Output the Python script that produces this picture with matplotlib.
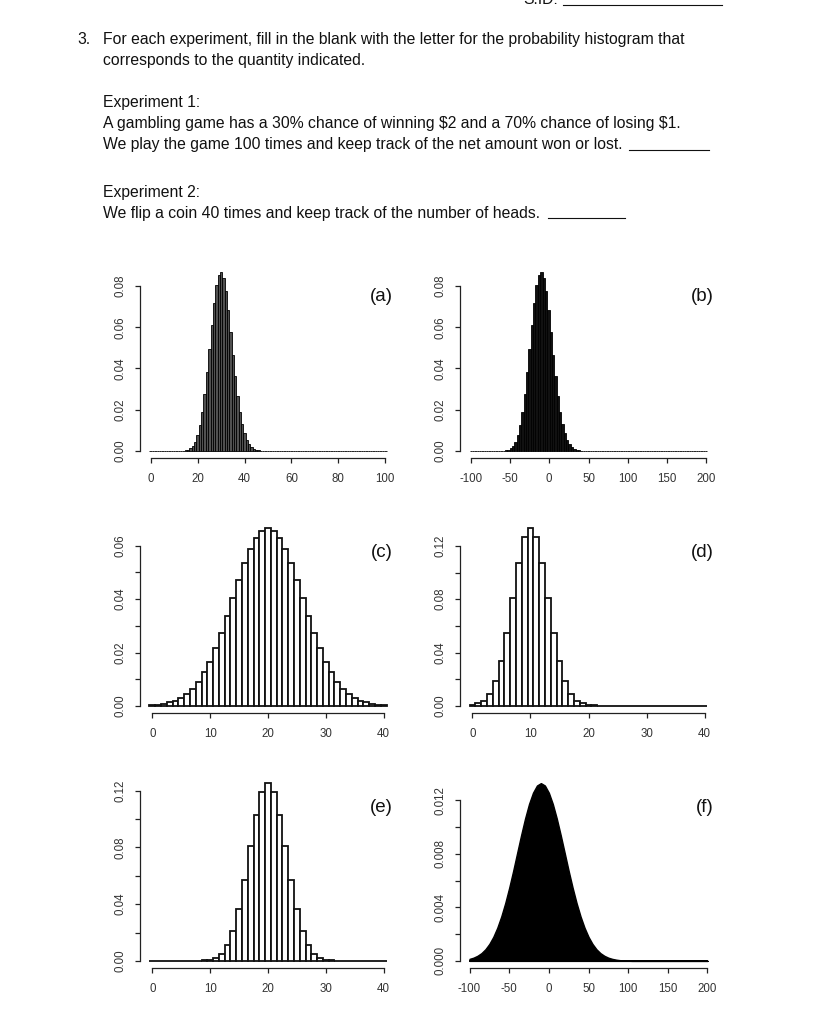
import numpy as np
import matplotlib
matplotlib.use("Agg")
import matplotlib.pyplot as plt
from matplotlib.lines import Line2D

plt.rcParams['font.family'] = ['Liberation Sans', 'DejaVu Sans']
plt.rcParams['axes.unicode_minus'] = False

# (a) number of wins out of 100, bars at 0..100 (values read for 12..50)
a_x = list(range(0, 101))
a_start = 12
a_probs = [0.00001, 0.00004, 0.0001, 0.00025, 0.00057, 0.0012, 0.0024, 0.0044, 0.0076, 0.0124,
           0.019, 0.0277, 0.0381, 0.0496, 0.0613, 0.072, 0.0804, 0.0856, 0.0868, 0.084,
           0.0776, 0.0685, 0.0579, 0.0468, 0.0362, 0.0268, 0.0191, 0.013, 0.0085, 0.0053,
           0.0032, 0.00185, 0.00103, 0.00055, 0.00028, 0.00014, 0.00006, 0.00003, 0.00001]

# (b) net amount, bars at -100, -97, ..., 200 (values read for -64..50)
b_x = list(range(-100, 201, 3))
b_start = -64
b_probs = [0.00001, 0.00004, 0.0001, 0.00025, 0.00057, 0.0012, 0.0024, 0.0044, 0.0076, 0.0124,
           0.019, 0.0277, 0.0381, 0.0496, 0.0613, 0.072, 0.0804, 0.0856, 0.0868, 0.084,
           0.0776, 0.0685, 0.0579, 0.0468, 0.0362, 0.0268, 0.0191, 0.013, 0.0085, 0.0053,
           0.0032, 0.00185, 0.00103, 0.00055, 0.00028, 0.00014, 0.00006, 0.00003, 0.00001]

# (c) bars at 0..40
c_x = list(range(0, 41))
c_probs = [0.0002, 0.0004, 0.0008, 0.0013, 0.002, 0.0031, 0.0045, 0.0063, 0.0091, 0.0126,
           0.0166, 0.0216, 0.0273, 0.0338, 0.0404, 0.0473, 0.0535, 0.0588, 0.0629, 0.0657,
           0.0666,
           0.0657, 0.0629, 0.0588, 0.0535, 0.0473, 0.0404, 0.0338, 0.0273, 0.0216, 0.0166,
           0.0126, 0.0091, 0.0063, 0.0045, 0.0031, 0.002, 0.0013, 0.0008, 0.0004, 0.0002]

# (d) bars at 0..40
d_x = list(range(0, 41))
d_probs = [0.0008, 0.0018, 0.0038, 0.009, 0.0183, 0.0333, 0.0545, 0.0808, 0.107, 0.1263,
           0.1333,
           0.1263, 0.107, 0.0808, 0.0545, 0.0333, 0.0183, 0.009, 0.0038, 0.0018, 0.0008,
           0.0003, 0.0001, 0, 0, 0, 0, 0, 0, 0, 0,
           0, 0, 0, 0, 0, 0, 0, 0, 0, 0]

# (e) number of heads in 40 flips, bars at 0..40
e_x = list(range(0, 41))
e_probs = [0, 0, 0, 0, 0, 0, 0, 0.00001, 0.0001, 0.0003,
           0.0008, 0.0021, 0.0051, 0.0109, 0.0211, 0.0366, 0.0572, 0.0807, 0.1031, 0.1194,
           0.1254,
           0.1194, 0.1031, 0.0807, 0.0572, 0.0366, 0.0211, 0.0109, 0.0051, 0.0021, 0.0008,
           0.0003, 0.0001, 0.00001, 0, 0, 0, 0, 0, 0, 0]

# (f) smooth filled shape, read every 5 units from -100 to 200
f_x = list(range(-100, 201, 5))
f_dens = [0.00015, 0.00024, 0.00038, 0.00058, 0.00087, 0.00127, 0.0018, 0.00248, 0.00332, 0.00432,
          0.00547, 0.00673, 0.00807, 0.0094, 0.01065, 0.01174, 0.01258, 0.01312, 0.0133, 0.01312,
          0.01258, 0.01174, 0.01065, 0.0094, 0.00807, 0.00673, 0.00547, 0.00432, 0.00332, 0.00248,
          0.0018, 0.00127, 0.00087, 0.00058, 0.00038, 0.00024, 0.00015, 0.00009, 0.00005, 0.00003,
          0.00001, 0, 0, 0, 0, 0, 0, 0, 0, 0,
          0, 0, 0, 0, 0, 0, 0, 0, 0, 0, 0]

W, H = 813, 1024
fig = plt.figure(figsize=(W / 100, H / 100), dpi=100)


def fx(x):
    return x / W


def fy(y):
    return 1 - y / H


def add_panel(l, t, r, b):
    return fig.add_axes([fx(l), fy(b), (r - l) / W, (b - t) / H])


def style(ax, xticks, yticks, ylabels, tag):
    ax.use_sticky_edges = False
    ax.margins(0.04)
    for s in ['top', 'right']:
        ax.spines[s].set_visible(False)
    for s in ['left', 'bottom']:
        ax.spines[s].set_linewidth(0.9)
        ax.spines[s].set_color('#222222')
    ax.spines['left'].set_bounds(yticks[0], yticks[-1])
    ax.spines['bottom'].set_bounds(xticks[0], xticks[-1])
    ax.set_xticks(xticks, labels=[str(v) for v in xticks])
    ax.set_yticks(yticks, labels=ylabels)
    ax.tick_params(axis='both', direction='out', length=3.5, width=0.9,
                   color='#222222', labelsize=8.3, labelcolor='#333333')
    ax.tick_params(axis='x', pad=7)
    ax.tick_params(axis='y', pad=6.5, labelrotation=90)
    for lab in ax.get_yticklabels():
        lab.set_va('center')
    ax.text(0.988, 0.835, tag, transform=ax.transAxes, ha='right', va='center',
            fontsize=13.5, color='#111111')


# question text
texts = [
    (77, 44, "3."),
    (103, 44, "For each experiment, fill in the blank with the letter for the probability histogram that"),
    (103, 65.5, "corresponds to the quantity indicated."),
    (103, 107, "Experiment 1:"),
    (103, 128.3, "A gambling game has a 30% chance of winning $2 and a 70% chance of losing $1."),
    (103, 149.3, "We play the game 100 times and keep track of the net amount won or lost."),
    (103, 197.5, "Experiment 2:"),
    (103, 218.3, "We flip a coin 40 times and keep track of the number of heads."),
]
for x, y, s in texts:
    fig.text(fx(x), fy(y), s, ha='left', va='baseline', fontsize=11.3, color='#111111',
             parse_math=False)

fig.text(fx(558), fy(4), "S.ID:", ha='right', va='baseline', fontsize=11.3, color='#111111')
for x0, x1, y in [(563, 722, 5), (629, 709, 150), (548, 625, 218)]:
    fig.add_artist(Line2D([fx(x0), fx(x1)], [fy(y), fy(y)], color='#111111', lw=0.8))

# (a)
ax = add_panel(140, 265, 396, 458)
a_full = np.zeros(len(a_x))
a_full[a_start:a_start + len(a_probs)] = a_probs
ax.bar(a_x, a_full, width=1, color='#505050', edgecolor='black', linewidth=0.6)
style(ax, [0, 20, 40, 60, 80, 100], [0, 0.02, 0.04, 0.06, 0.08],
      ['0.00', '0.02', '0.04', '0.06', '0.08'], '(a)')

# (b)
ax = add_panel(460, 265, 717, 458)
b_full = np.zeros(len(b_x))
i0 = b_x.index(b_start)
b_full[i0:i0 + len(b_probs)] = b_probs
ax.bar(b_x, b_full, width=3, color='#111111', edgecolor='black', linewidth=0.6)
style(ax, [-100, -50, 0, 50, 100, 150, 200], [0, 0.02, 0.04, 0.06, 0.08],
      ['0.00', '0.02', '0.04', '0.06', '0.08'], '(b)')

# (c)
ax = add_panel(140, 521, 396, 713)
ax.bar(c_x, c_probs, width=1, color='white', edgecolor='#111111', linewidth=1.3)
style(ax, [0, 10, 20, 30, 40], [0, 0.01, 0.02, 0.03, 0.04, 0.05, 0.06],
      ['0.00', '', '0.02', '', '0.04', '', '0.06'], '(c)')

# (d)
ax = add_panel(460, 521, 717, 713)
ax.bar(d_x, d_probs, width=1, color='white', edgecolor='#111111', linewidth=1.3)
style(ax, [0, 10, 20, 30, 40], [0, 0.02, 0.04, 0.06, 0.08, 0.10, 0.12],
      ['0.00', '', '0.04', '', '0.08', '', '0.12'], '(d)')

# (e)
ax = add_panel(140, 776, 396, 968)
ax.bar(e_x, e_probs, width=1, color='white', edgecolor='#111111', linewidth=1.3)
style(ax, [0, 10, 20, 30, 40], [0, 0.02, 0.04, 0.06, 0.08, 0.10, 0.12],
      ['0.00', '', '0.04', '', '0.08', '', '0.12'], '(e)')

# (f)
ax = add_panel(460, 776, 717, 968)
ax.fill_between(f_x, 0, f_dens, color='black', linewidth=1.0, edgecolor='black')
ax.plot(f_x, np.zeros(len(f_x)), color='black', lw=1.4)
style(ax, [-100, -50, 0, 50, 100, 150, 200],
      [0, 0.002, 0.004, 0.006, 0.008, 0.010, 0.012],
      ['0.000', '', '0.004', '', '0.008', '', '0.012'], '(f)')

fig.savefig("out.png", dpi=100, facecolor='white')
